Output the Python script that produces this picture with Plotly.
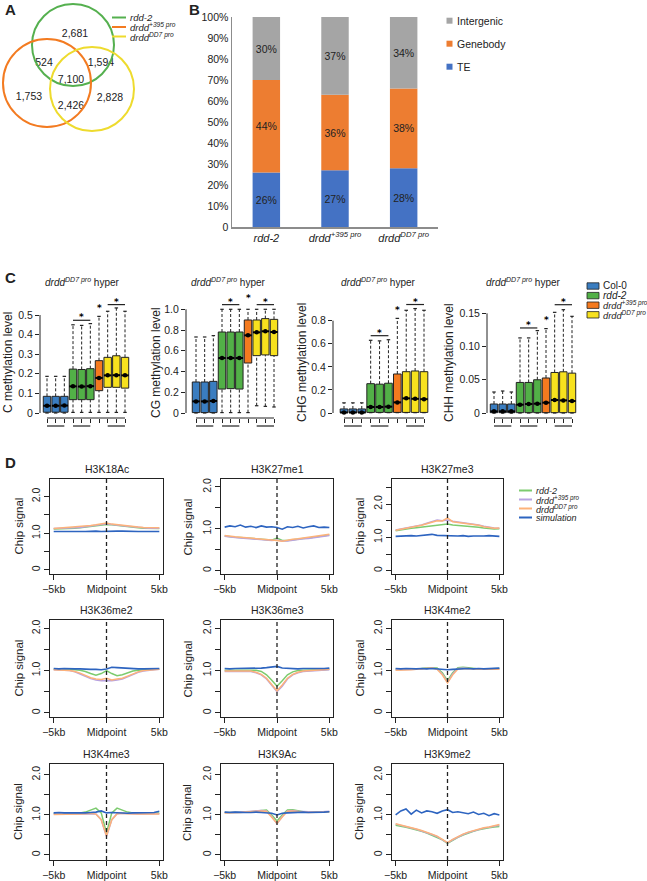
import plotly.graph_objects as go

W, H = 647, 881
FONT = "Liberation Sans, Arial, Helvetica, sans-serif"
INK = "#222222"

# ================= DATA =================
# --- A: Venn counts ---
venn_sets = ["rdd-2", "drdd+395 pro", "drddDD7 pro"]
venn_set_labels = ["<i>rdd-2</i>", "<i>drdd<sup>+395 pro</sup></i>", "<i>drdd<sup>DD7 pro</sup></i>"]
venn_regions = ["rdd-2 only", "rdd-2 & +395", "rdd-2 & DD7", "all three", "+395 only", "+395 & DD7", "DD7 only"]
venn_counts = [2681, 524, 1594, 7100, 1753, 2426, 2828]

# --- B: stacked percentages ---
bar_categories = ["rdd-2", "drdd+395 pro", "drddDD7 pro"]
bar_ticktext = ["<i>rdd-2</i>", "<i>drdd<sup>+395 pro</sup></i>", "<i>drdd<sup>DD7 pro</sup></i>"]
te_pct = [26, 27, 28]
genebody_pct = [44, 36, 38]
intergenic_pct = [30, 37, 34]
bar_yticks = [0, 10, 20, 30, 40, 50, 60, 70, 80, 90, 100]
bar_yticktext = ["0", "10%", "20%", "30%", "40%", "50%", "60%", "70%", "80%", "90%", "100%"]

# --- C: box statistics (10 boxes: 3 Col-0, 3 rdd-2, 1 drdd+395, 3 drddDD7) ---
box_groups = ["Col-0"] * 3 + ["rdd-2"] * 3 + ["drdd+395 pro"] + ["drddDD7 pro"] * 3
box_positions = [1, 2, 3, 4, 5, 6, 7, 8, 9, 10]

C_lo = [0, 0, 0, 0.003, 0.003, 0.003, 0.003, 0.003, 0.003, 0.003]
C_q1 = [0.004, 0.004, 0.004, 0.068, 0.068, 0.068, 0.114, 0.131, 0.131, 0.127]
C_med = [0.037, 0.037, 0.038, 0.136, 0.135, 0.137, 0.179, 0.192, 0.193, 0.192]
C_q3 = [0.085, 0.085, 0.085, 0.224, 0.222, 0.226, 0.267, 0.284, 0.292, 0.284]
C_hi = [0.187, 0.187, 0.187, 0.45, 0.447, 0.456, 0.493, 0.519, 0.536, 0.519]
C_ticks = [0, 0.1, 0.2, 0.3, 0.4, 0.5]
C_ticktext = ["0", "0.1", "0.2", "0.3", "0.4", "0.5"]
C_sig = [0.473, 0.553, 0.519]   # green bar, yellow bar, orange star

CG_lo = [0, 0, 0, 0.004, 0.004, 0.004, 0.004, 0.07, 0.064, 0.058]
CG_q1 = [0.004, 0.004, 0.004, 0.231, 0.235, 0.231, 0.482, 0.553, 0.56, 0.553]
CG_med = [0.112, 0.112, 0.116, 0.53, 0.53, 0.53, 0.749, 0.778, 0.788, 0.781]
CG_q3 = [0.299, 0.299, 0.305, 0.781, 0.781, 0.781, 0.897, 0.897, 0.91, 0.903]
CG_hi = [0.733, 0.733, 0.746, 1.0, 1.0, 1.0, 1.0, 1.0, 1.0, 1.0]
CG_ticks = [0, 0.2, 0.4, 0.6, 0.8, 1.0]
CG_ticktext = ["0", "0.2", "0.4", "0.6", "0.8", "1.0"]
CG_sig = [1.045, 1.045, 1.077]

CHG_lo = [0, 0, 0, 0.003, 0.003, 0.003, 0.003, 0.003, 0.003, 0.003]
CHG_q1 = [0.002, 0.002, 0.002, 0.005, 0.005, 0.005, 0.005, 0.005, 0.005, 0.005]
CHG_med = [0.005, 0.005, 0.005, 0.052, 0.052, 0.055, 0.092, 0.127, 0.123, 0.12]
CHG_q3 = [0.035, 0.035, 0.035, 0.254, 0.25, 0.258, 0.338, 0.358, 0.364, 0.358]
CHG_hi = [0.088, 0.088, 0.088, 0.63, 0.625, 0.635, 0.82, 0.89, 0.905, 0.89]
CHG_ticks = [0, 0.2, 0.4, 0.6, 0.8]
CHG_ticktext = ["0", "0.2", "0.4", "0.6", "0.8"]
CHG_sig = [0.67, 0.94, 0.867]

CHH_lo = [0, 0, 0, 0, 0, 0, 0, 0, 0, 0]
CHH_q1 = [0.0005] * 10
CHH_med = [0.0025, 0.0025, 0.0025, 0.0125, 0.0135, 0.014, 0.0156, 0.0196, 0.019, 0.018]
CHH_q3 = [0.0135, 0.0135, 0.0135, 0.046, 0.046, 0.05, 0.0527, 0.061, 0.062, 0.06]
CHH_hi = [0.0316, 0.0331, 0.0316, 0.113, 0.113, 0.124, 0.127, 0.1515, 0.1555, 0.1455]
CHH_ticks = [0, 0.05, 0.10, 0.15]
CHH_ticktext = ["0", "0.05", "0.10", "0.15"]
CHH_sig = [0.128, 0.163, 0.1355]

# --- D: ChIP signal profiles around midpoint (kb) ---
profile_x = [-5, -4.5, -4, -3.5, -3, -2.5, -2, -1.5, -1, -0.5, 0, 0.5, 1, 1.5, 2, 2.5, 3, 3.5, 4, 4.5, 5]
marks = ["H3K18Ac", "H3K27me1", "H3K27me3", "H3K36me2", "H3K36me3", "H3K4me2", "H3K4me3", "H3K9Ac", "H3K9me2"]

rdd2_signal = {
    "H3K18Ac": [1.12, 1.12, 1.13, 1.13, 1.14, 1.15, 1.17, 1.19, 1.21, 1.22, 1.24, 1.23, 1.21, 1.2, 1.18, 1.17, 1.15, 1.14, 1.13, 1.13, 1.13],
    "H3K27me1": [0.83, 0.81, 0.8, 0.79, 0.78, 0.77, 0.75, 0.74, 0.74, 0.73, 0.78, 0.72, 0.72, 0.74, 0.75, 0.77, 0.78, 0.8, 0.81, 0.83, 0.85],
    "H3K27me3": [1.2, 1.23, 1.25, 1.27, 1.29, 1.31, 1.34, 1.36, 1.37, 1.38, 1.4, 1.37, 1.36, 1.35, 1.34, 1.32, 1.3, 1.28, 1.26, 1.25, 1.26],
    "H3K36me2": [1.03, 1.03, 1.02, 1.02, 1.02, 1.01, 0.98, 0.93, 0.89, 0.93, 1.0, 0.93, 0.88, 0.9, 0.95, 0.99, 1.01, 1.02, 1.02, 1.03, 1.03],
    "H3K36me3": [1.01, 1.01, 1.01, 1.01, 1.02, 1.02, 1.01, 0.98, 0.9, 0.77, 0.63, 0.76, 0.9, 0.97, 1.0, 1.01, 1.01, 1.02, 1.02, 1.02, 1.03],
    "H3K4me2": [1.04, 1.03, 1.03, 1.04, 1.04, 1.05, 1.06, 1.07, 1.06, 0.95, 0.76, 0.95, 1.07, 1.08, 1.07, 1.05, 1.04, 1.04, 1.04, 1.05, 1.05],
    "H3K4me3": [1.04, 1.04, 1.04, 1.04, 1.04, 1.05, 1.07, 1.12, 1.17, 1.05, 0.55, 1.05, 1.17, 1.12, 1.07, 1.05, 1.04, 1.04, 1.04, 1.05, 1.05],
    "H3K9Ac": [1.06, 1.06, 1.06, 1.07, 1.07, 1.08, 1.09, 1.1, 1.12, 1.0, 0.85, 1.0, 1.12, 1.13, 1.1, 1.08, 1.07, 1.07, 1.06, 1.07, 1.08],
    "H3K9me2": [0.74, 0.72, 0.69, 0.66, 0.63, 0.59, 0.55, 0.5, 0.45, 0.38, 0.29, 0.37, 0.44, 0.5, 0.55, 0.59, 0.63, 0.66, 0.68, 0.7, 0.71],
}
drdd395_signal = {
    "H3K18Ac": [1.13, 1.13, 1.14, 1.14, 1.15, 1.16, 1.18, 1.2, 1.22, 1.24, 1.26, 1.24, 1.22, 1.21, 1.19, 1.18, 1.16, 1.15, 1.14, 1.14, 1.14],
    "H3K27me1": [0.82, 0.8, 0.79, 0.78, 0.77, 0.76, 0.74, 0.73, 0.72, 0.72, 0.73, 0.71, 0.71, 0.73, 0.74, 0.76, 0.77, 0.79, 0.8, 0.82, 0.84],
    "H3K27me3": [1.22, 1.25, 1.28, 1.3, 1.33, 1.37, 1.42, 1.47, 1.52, 1.5, 1.52, 1.48, 1.46, 1.44, 1.42, 1.4, 1.37, 1.33, 1.3, 1.28, 1.27],
    "H3K36me2": [1.02, 1.02, 1.01, 1.0, 0.97, 0.92, 0.86, 0.81, 0.78, 0.76, 0.76, 0.76, 0.78, 0.8, 0.85, 0.91, 0.96, 0.99, 1.01, 1.02, 1.03],
    "H3K36me3": [0.98, 0.98, 0.99, 0.99, 0.99, 0.98, 0.95, 0.9, 0.8, 0.64, 0.5, 0.63, 0.8, 0.9, 0.95, 0.98, 0.99, 1.0, 1.0, 1.01, 1.02],
    "H3K4me2": [1.02, 1.02, 1.02, 1.03, 1.03, 1.04, 1.05, 1.06, 1.04, 0.92, 0.72, 0.92, 1.05, 1.06, 1.05, 1.04, 1.03, 1.03, 1.03, 1.04, 1.04],
    "H3K4me3": [1.02, 1.02, 1.02, 1.02, 1.02, 1.02, 1.03, 1.03, 1.02, 0.88, 0.46, 0.88, 1.03, 1.04, 1.03, 1.02, 1.02, 1.02, 1.02, 1.03, 1.03],
    "H3K9Ac": [1.06, 1.06, 1.07, 1.07, 1.08, 1.09, 1.1, 1.11, 1.1, 0.96, 0.78, 0.96, 1.1, 1.11, 1.09, 1.08, 1.07, 1.07, 1.07, 1.08, 1.09],
    "H3K9me2": [0.77, 0.74, 0.7, 0.67, 0.64, 0.6, 0.56, 0.51, 0.46, 0.39, 0.3, 0.38, 0.45, 0.51, 0.56, 0.6, 0.64, 0.67, 0.69, 0.72, 0.74],
}
drddDD7_signal = {
    "H3K18Ac": [1.13, 1.14, 1.14, 1.15, 1.16, 1.17, 1.19, 1.21, 1.23, 1.25, 1.28, 1.25, 1.23, 1.22, 1.2, 1.18, 1.17, 1.16, 1.15, 1.15, 1.15],
    "H3K27me1": [0.84, 0.82, 0.81, 0.8, 0.79, 0.77, 0.76, 0.75, 0.74, 0.74, 0.72, 0.7, 0.73, 0.75, 0.76, 0.78, 0.8, 0.81, 0.83, 0.85, 0.87],
    "H3K27me3": [1.21, 1.24, 1.27, 1.29, 1.32, 1.36, 1.41, 1.46, 1.5, 1.49, 1.58, 1.47, 1.45, 1.43, 1.41, 1.39, 1.36, 1.32, 1.29, 1.27, 1.28],
    "H3K36me2": [1.02, 1.02, 1.01, 1.0, 0.98, 0.94, 0.88, 0.83, 0.8, 0.79, 0.82, 0.78, 0.8, 0.82, 0.87, 0.92, 0.97, 1.0, 1.01, 1.02, 1.03],
    "H3K36me3": [0.99, 0.99, 0.99, 1.0, 1.0, 0.99, 0.96, 0.91, 0.82, 0.67, 0.52, 0.66, 0.82, 0.91, 0.96, 0.99, 1.0, 1.0, 1.01, 1.02, 1.03],
    "H3K4me2": [1.01, 1.01, 1.02, 1.02, 1.03, 1.04, 1.05, 1.06, 1.03, 0.9, 0.71, 0.9, 1.04, 1.05, 1.05, 1.04, 1.03, 1.03, 1.03, 1.04, 1.03],
    "H3K4me3": [1.01, 1.01, 1.01, 1.02, 1.02, 1.02, 1.03, 1.04, 1.02, 0.88, 0.48, 0.88, 1.03, 1.04, 1.03, 1.02, 1.02, 1.02, 1.02, 1.03, 1.02],
    "H3K9Ac": [1.05, 1.05, 1.06, 1.06, 1.07, 1.08, 1.09, 1.1, 1.09, 0.95, 0.79, 0.95, 1.09, 1.1, 1.08, 1.07, 1.06, 1.06, 1.06, 1.07, 1.08],
    "H3K9me2": [0.78, 0.75, 0.71, 0.68, 0.65, 0.61, 0.57, 0.52, 0.47, 0.4, 0.31, 0.39, 0.46, 0.52, 0.57, 0.61, 0.65, 0.68, 0.7, 0.73, 0.76],
}
simulation_signal = {
    "H3K18Ac": [1.05, 1.06, 1.05, 1.05, 1.06, 1.05, 1.05, 1.06, 1.06, 1.05, 1.06, 1.05, 1.06, 1.06, 1.05, 1.06, 1.05, 1.05, 1.06, 1.05, 1.05],
    "H3K27me1": [1.04, 1.07, 1.05, 1.09, 1.04, 1.06, 1.03, 1.07, 1.04, 1.05, 1.03, 0.99, 1.05, 1.03, 1.06, 1.02, 1.05, 1.07, 1.03, 1.04, 1.03],
    "H3K27me3": [1.03, 1.04, 1.03, 1.05, 1.04, 1.06, 1.07, 1.09, 1.06, 1.05, 1.04, 1.05, 1.04, 1.05, 1.03, 1.04, 1.03, 1.04, 1.05, 1.04, 1.03],
    "H3K36me2": [1.05, 1.04, 1.05, 1.04, 1.04, 1.04, 1.03, 1.03, 1.03, 1.02, 1.04, 1.08, 1.07, 1.06, 1.05, 1.05, 1.04, 1.04, 1.04, 1.04, 1.05],
    "H3K36me3": [1.05, 1.04, 1.05, 1.05, 1.06, 1.05, 1.06, 1.06, 1.07, 1.08, 1.1, 1.06, 1.05, 1.05, 1.04, 1.05, 1.05, 1.04, 1.05, 1.05, 1.06],
    "H3K4me2": [1.05, 1.04, 1.05, 1.04, 1.04, 1.05, 1.04, 1.05, 1.04, 1.04, 1.02, 1.03, 1.04, 1.04, 1.05, 1.04, 1.05, 1.04, 1.05, 1.05, 1.06],
    "H3K4me3": [1.05, 1.06, 1.05, 1.05, 1.04, 1.05, 1.05, 1.06, 1.07, 1.1, 1.05, 1.06, 1.05, 1.05, 1.04, 1.05, 1.05, 1.06, 1.05, 1.06, 1.09],
    "H3K9Ac": [1.07, 1.06, 1.07, 1.06, 1.06, 1.06, 1.07, 1.06, 1.05, 1.04, 1.0, 1.04, 1.05, 1.06, 1.06, 1.07, 1.06, 1.06, 1.06, 1.07, 1.08],
    "H3K9me2": [1.0, 1.1, 1.15, 1.02, 1.12, 1.05, 1.1, 1.08, 1.04, 1.1, 1.13, 1.06, 1.08, 1.05, 1.03, 1.07, 1.01, 1.04, 0.98, 1.03, 1.0],
}
profile_series = ["rdd-2", "drdd+395 pro", "drddDD7 pro", "simulation"]
profile_labels = ["<i>rdd-2</i>", "<i>drdd<sup>+395 pro</sup></i>", "<i>drdd<sup>DD7 pro</sup></i>", "<i>simulation</i>"]

# ================= STYLE / GEOMETRY =================
VENN_COLORS = ["#55B04F", "#F37B21", "#EEDB2E"]
BAR_COLORS = {"TE": "#4472C4", "Genebody": "#ED7D31", "Intergenic": "#A5A5A5"}
GROUP_COLORS = {"Col-0": "#3A7DC0", "rdd-2": "#52B047", "drdd+395 pro": "#F47A1F", "drddDD7 pro": "#F7E11E"}
PROFILE_COLORS = ["#7CCB6E", "#B7A2E0", "#FDB27A", "#2D64C0"]


def fx(px):
    return px / W


def fy(py):
    return 1 - py / H


fig = go.Figure()
layout = dict(
    template="none",
    width=W, height=H, margin=dict(l=0, r=0, t=0, b=0, pad=0), autosize=False,
    paper_bgcolor="white", plot_bgcolor="rgba(0,0,0,0)",
    font=dict(family=FONT, size=10, color=INK),
    showlegend=False, barmode="overlay",
)
annotations = []
shapes = []


def names(i):
    if i == 1:
        return "x", "y", "xaxis", "yaxis"
    return f"x{i}", f"y{i}", f"xaxis{i}", f"yaxis{i}"


def set_axes(i, x0, x1, y0, y1, xa=None, ya=None):
    xn, yn, xk, yk = names(i)
    base = dict(showgrid=False, zeroline=False, fixedrange=True, automargin=False)
    xd = dict(base, domain=[fx(x0), fx(x1)], anchor=yn)
    yd = dict(base, domain=[fy(y1), fy(y0)], anchor=xn)
    xd.update(xa or {})
    yd.update(ya or {})
    layout[xk] = xd
    layout[yk] = yd


def ann(text, px, py, size=10, xanchor="center", yanchor="middle", angle=0, **kw):
    d = dict(text=text, x=fx(px), y=fy(py), xref="paper", yref="paper",
             xanchor=xanchor, yanchor=yanchor, showarrow=False, textangle=angle,
             font=dict(family=FONT, size=size, color=kw.pop("color", INK)))
    d.update(kw)
    annotations.append(d)


# panel letters
for letter, px, py in [("A", 3, 9), ("B", 187, 9), ("C", 3, 277), ("D", 3, 462)]:
    ann(f"<b>{letter}</b>", px, py, size=15, xanchor="left")

# ================= A: Venn =================
set_axes(1, 0, 150, 0, 140,
         xa=dict(range=[0, 150], visible=False),
         ya=dict(range=[140, 0], visible=False))
venn_circles = [(73, 45, 41), (47, 83, 44), (92, 89, 42)]   # centre x, centre y, radius (panel px)
for (cx, cy, r), col in zip(venn_circles, VENN_COLORS):
    shapes.append(dict(type="circle", xref="x", yref="y", x0=cx - r, x1=cx + r, y0=cy - r, y1=cy + r,
                       line=dict(color=col, width=2)))
venn_label_pos = [(75, 34), (44, 63), (101, 63), (71, 80), (29, 97), (71, 106), (110, 98)]
fig.add_trace(go.Scatter(
    x=[p[0] for p in venn_label_pos], y=[p[1] for p in venn_label_pos],
    text=[f"{c:,}" for c in venn_counts], mode="text",
    textfont=dict(family=FONT, size=10.5, color=INK), hoverinfo="skip",
    xaxis="x", yaxis="y"))
for k, (lab, col) in enumerate(zip(venn_set_labels, VENN_COLORS)):
    yy = [17.5, 27, 36.5][k]
    shapes.append(dict(type="line", xref="paper", yref="paper", x0=fx(112), x1=fx(126),
                       y0=fy(yy), y1=fy(yy), line=dict(color=col, width=2)))
    ann(lab, 128, yy, size=9.5, xanchor="left")

# ================= B: stacked bars =================
set_axes(2, 232, 438, 17, 227,
         xa=dict(range=[-0.5, 2.5], tickmode="array", tickvals=bar_categories, ticktext=bar_ticktext,
                 type="category", showline=True, linecolor="#8C8C8C", linewidth=1.5, ticks="",
                 tickfont=dict(size=11, color=INK)),
         ya=dict(range=[0, 100], tickvals=bar_yticks, ticktext=bar_yticktext, showline=True,
                 linecolor="#8C8C8C", linewidth=1.5, ticks="", tickfont=dict(size=10.5, color=INK)))
ge_base = [a for a in te_pct]
ig_base = [a + b for a, b in zip(te_pct, genebody_pct)]
for name, vals, base in [("TE", te_pct, [0, 0, 0]), ("Genebody", genebody_pct, ge_base),
                         ("Intergenic", intergenic_pct, ig_base)]:
    fig.add_trace(go.Bar(
        x=bar_categories, y=vals, base=base, width=0.4, name=name,
        marker=dict(color=BAR_COLORS[name], line=dict(width=0)),
        text=[f"{v}%" for v in vals], textposition="inside", insidetextanchor="middle",
        textfont=dict(family=FONT, size=10.5, color=INK), textangle=0,
        xaxis="x2", yaxis="y2", hoverinfo="skip"))
for k, name in enumerate(["Intergenic", "Genebody", "TE"]):
    yy = 20.7 + k * 23
    shapes.append(dict(type="rect", xref="paper", yref="paper", x0=fx(446.5), x1=fx(452.5),
                       y0=fy(yy - 3), y1=fy(yy + 3), fillcolor=BAR_COLORS[name], line=dict(width=0)))
    ann(name, 455, yy, size=10.5, xanchor="left")

# ================= C: box plots =================
box_colors = [GROUP_COLORS[g] for g in box_groups]
C_TOP, C_BOT, C_ZERO = 285, 418, 413
c_panels = [
    (40, 47, 125, 196.0, (C_lo, C_q1, C_med, C_q3, C_hi), C_ticks, C_ticktext, C_sig, "C methylation level", 82, 8),
    (186, 196, 274, 103.7, (CG_lo, CG_q1, CG_med, CG_q3, CG_hi), CG_ticks, CG_ticktext, CG_sig, "CG methylation level", 228, 156),
    (333, 344, 424, 115.4, (CHG_lo, CHG_q1, CHG_med, CHG_q3, CHG_hi), CHG_ticks, CHG_ticktext, CHG_sig, "CHG methylation level", 378, 302),
    (487, 494, 572, 664.4, (CHH_lo, CHH_q1, CHH_med, CHH_q3, CHH_hi), CHH_ticks, CHH_ticktext, CHH_sig, "CHH methylation level", 523, 449),
]
for j, (axpx, p1, p10, scale, stats, ticks, ttext, sig, ytitle, tx, ytx) in enumerate(c_panels):
    i = 3 + j
    xn, yn, _, _ = names(i)
    sp = (p10 - p1) / 9.0
    xr = [1 - (p1 - axpx) / sp, 10 + 6 / sp]
    yr = [-(C_BOT - C_ZERO) / scale, (C_ZERO - C_TOP) / scale]
    set_axes(i, axpx, p10 + 6, C_TOP, C_BOT,
             xa=dict(range=xr, tickvals=box_positions, showticklabels=False, ticks="outside",
                     ticklen=4, tickcolor=INK, tickwidth=1, showline=False),
             ya=dict(range=yr, tickvals=ticks, ticktext=ttext, ticks="outside", ticklen=4,
                     tickcolor=INK, tickwidth=1, showline=False, tickfont=dict(size=10.5, color=INK)))
    lo, q1, med, q3, hi = stats
    fig.add_trace(go.Bar(x=box_positions, y=[b - a for a, b in zip(q1, q3)], base=q1, width=0.86,
                         marker=dict(color=box_colors, line=dict(color=INK, width=1)),
                         xaxis=xn, yaxis=yn, hoverinfo="skip"))
    wx, wy, cx, cy, mx, my = [], [], [], [], [], []
    for p, a, b, m, c, d in zip(box_positions, lo, q1, med, q3, hi):
        wx += [p, p, None, p, p, None]
        wy += [c, d, None, a, b, None]
        cx += [p - 0.2, p + 0.2, None, p - 0.2, p + 0.2, None]
        cy += [d, d, None, a, a, None]
        mx += [p - 0.43, p + 0.43, None]
        my += [m, m, None]
    fig.add_trace(go.Scatter(x=wx, y=wy, mode="lines", line=dict(color=INK, width=1, dash="3px,2px"),
                             xaxis=xn, yaxis=yn, hoverinfo="skip"))
    fig.add_trace(go.Scatter(x=cx, y=cy, mode="lines", line=dict(color=INK, width=1.2),
                             xaxis=xn, yaxis=yn, hoverinfo="skip"))
    fig.add_trace(go.Scatter(x=mx, y=my, mode="lines", line=dict(color="black", width=2),
                             xaxis=xn, yaxis=yn, hoverinfo="skip"))
    fig.add_trace(go.Scatter(x=box_positions, y=med, mode="markers", marker=dict(color="black", size=4.5),
                             xaxis=xn, yaxis=yn, hoverinfo="skip"))
    g_h, y_h, o_h = sig
    fig.add_trace(go.Scatter(x=[4, 6, None, 8, 10], y=[g_h, g_h, None, y_h, y_h], mode="lines",
                             line=dict(color=INK, width=1.2), xaxis=xn, yaxis=yn, hoverinfo="skip"))
    for sx, sy in [(5, g_h), (9, y_h), (7, o_h)]:
        annotations.append(dict(text="<b>*</b>", x=sx, y=sy, xref=xn, yref=yn, showarrow=False,
                                xanchor="center", yanchor="bottom", yshift=-4,
                                font=dict(family="DejaVu Sans, sans-serif", size=9, color="black")))
    shapes.append(dict(type="line", xref=f"{xn} domain", yref=yn, x0=0, x1=0, y0=0, y1=ticks[-1],
                       line=dict(color=INK, width=1)))
    shapes.append(dict(type="line", xref=xn, yref=f"{yn} domain", x0=1, x1=10, y0=0, y1=0,
                       line=dict(color=INK, width=1)))
    dh = C_BOT - C_TOP
    for a, b in [(1, 3), (4, 6), (8, 10)]:
        shapes.append(dict(type="line", xref=xn, yref=f"{yn} domain", x0=a, x1=b,
                           y0=-8 / dh, y1=-8 / dh, line=dict(color=INK, width=1.2)))
    ann("<i>drdd</i><sup><i>DD7 pro</i></sup> hyper", tx, 282, size=10)
    ann(ytitle, ytx, 363, size=12, angle=-90)

# C legend
for k, g in enumerate(["Col-0", "rdd-2", "drdd+395 pro", "drddDD7 pro"]):
    yy = 286 + k * 9.6
    shapes.append(dict(type="rect", xref="paper", yref="paper", x0=fx(587), x1=fx(599),
                       y0=fy(yy - 3.2), y1=fy(yy + 3.2), fillcolor=GROUP_COLORS[g],
                       line=dict(color=INK, width=0.8)))
lab_c = ["Col-0", "<i>rdd-2</i>", "<i>drdd<sup>+395 pro</sup></i>", "<i>drdd<sup>DD7 pro</sup></i>"]
for k, t in enumerate(lab_c):
    ann(t, 601, 286 + k * 9.6, size=10 if k < 2 else 9.3, xanchor="left")

# ================= D: profiles =================
col_px = [(50, 163), (221, 333), (392, 503)]
row_px = [(479, 574), (620, 717), (764, 860)]
y_ranges = [[-0.11, 2.48], [-0.08, 2.19], [-0.1, 2.75],
            [-0.1, 2.2], [-0.1, 2.2], [-0.1, 2.2],
            [-0.125, 2.27], [-0.125, 2.27], [-0.125, 2.27]]
ytitle_x = [18, 187, 359]
for k, mark in enumerate(marks):
    r, c = divmod(k, 3)
    i = 7 + k
    xn, yn, _, _ = names(i)
    x0, x1 = col_px[c]
    y0, y1 = row_px[r]
    yr = y_ranges[k]
    minor_vals = [0.5, 1.5] + ([2.5] if yr[1] >= 2.5 else [])
    set_axes(i, x0, x1, y0, y1,
             xa=dict(range=[-5.35, 5.35], tickvals=[-5, 0, 5], ticktext=["\u22125kb", "Midpoint", "5kb"],
                     ticks="outside", ticklen=5, tickcolor=INK, tickwidth=1, showline=True, mirror=True,
                     linecolor=INK, linewidth=1, tickfont=dict(size=10.5, color=INK)),
             ya=dict(range=yr, tickvals=[0, 1.0, 2.0], ticktext=["0", "1.0", "2.0"], tickangle=-90,
                     ticks="outside", ticklen=5, tickcolor=INK, tickwidth=1, showline=True, mirror=True,
                     linecolor=INK, linewidth=1, tickfont=dict(size=10.5, color=INK),
                     minor=dict(tickvals=minor_vals, ticks="outside", ticklen=5, tickcolor=INK,
                                tickwidth=1, showgrid=False)))
    for sname, data, col in zip(profile_series,
                                [rdd2_signal, drdd395_signal, drddDD7_signal, simulation_signal],
                                PROFILE_COLORS):
        fig.add_trace(go.Scatter(x=profile_x, y=data[mark], mode="lines", name=sname,
                                 line=dict(color=col, width=1.6 if sname == "simulation" else 1.5),
                                 xaxis=xn, yaxis=yn, hoverinfo="skip"))
    shapes.append(dict(type="line", xref=xn, yref=f"{yn} domain", x0=0, x1=0, y0=0, y1=1,
                       line=dict(color=INK, width=1.3, dash="4px,3px")))
    ann(mark, (x0 + x1) / 2, y0 - 10, size=10.5)
    ann("Chip signal", ytitle_x[c], (y0 + y1) / 2, size=11.5, angle=-90)

# D legend
for k, (t, col) in enumerate(zip(profile_labels, PROFILE_COLORS)):
    yy = [490.5, 499.5, 508.5, 517.5][k]
    shapes.append(dict(type="line", xref="paper", yref="paper", x0=fx(519), x1=fx(532),
                       y0=fy(yy), y1=fy(yy), line=dict(color=col, width=2)))
    ann(t, 534, yy, size=9, xanchor="left")

layout["annotations"] = annotations
layout["shapes"] = shapes
fig.update_layout(**layout)
fig.write_html("out.html", config={"displayModeBar": False, "staticPlot": True},
               post_script="document.body.style.margin='0';document.body.style.overflow='hidden';")
